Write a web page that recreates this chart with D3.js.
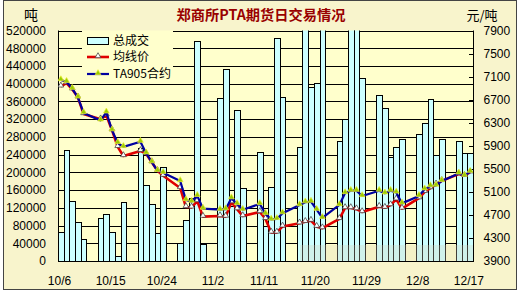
<!DOCTYPE html>
<html>
<head>
<meta charset="utf-8">
<script src="https://cdn.jsdelivr.net/npm/d3@7"></script>
<style>
  body { margin: 0; background: #fff; }
  svg { display: block; }
  text { font-family: "Liberation Sans", Arial, sans-serif; }
  .cjk { font-family: "Noto Sans CJK SC", sans-serif; }
</style>
</head>
<body>
<svg id="chart"></svg>
<script>
// trading days (2008)
const DATES = [
  "10/6","10/7","10/8","10/9","10/10","10/13","10/14","10/15","10/16","10/17",
  "10/20","10/21","10/22","10/23","10/24","10/27","10/28","10/29","10/30","10/31",
  "11/3","11/4","11/5","11/6","11/7","11/10","11/11","11/12","11/13","11/14",
  "11/17","11/18","11/19","11/20","11/21","11/24","11/25","11/26","11/27","11/28",
  "12/1","12/2","12/3","12/4","12/5","12/8","12/9","12/10","12/11","12/12",
  "12/15","12/16","12/17"
];
// 总成交 (吨)
const VOLUME = [
  66000, 250000, 136000, 87000, 49000, 98000, 105000, 64500, 11000, 134000,
  255000, 171000, 128000, 63000, 213000, 40000, 92000, 143000, 496000, 38000,
  367000, 434000, 125000, 340000, 164000, 246000, 80000, 166000, 502000, 369000,
  257000, 580000, 392000, 402000, 590000, 270000, 321000, 600000, 570000, 412000,
  374500, 344500, 234000, 256500, 275000, 286500, 310500, 365500, 239000, 274500,
  270500, 243000, 243000
];
// 均线价 (元/吨)
const AVG_PRICE = [
  6930, 6985, 6880, 6740, 6450, 6360, 6430, 6170, 5880, 5722,
  5810, 5760, 5615, 5465, 5380, 5167, 4837, 4830, 4940, 4670,
  4680, 4670, 4920, 4800, 4680, 4750, 4630, 4395, 4395, 4500,
  4555, 4580, 4600, 4495, 4470, 4630, 4820, 4820, 4800, 4750,
  4842, 4825, 4870, 4970, 4810, 4990, 5100, 5165, 5230, 5290,
  5410, 5380, 5440
];
// TA905合约 (元/吨)
const TA905 = [
  7040, 7010, 6890, 6740, 6470, 6340, 6480, 6170, 5950, 5880,
  5970, 5770, 5615, 5465, 5430, 5288, 4958, 4930, 5030, 4810,
  4790, 4800, 4990, 4890, 4790, 4890, 4720, 4620, 4630, 4730,
  4870, 4920, 4930, 4790, 4650, 4872, 5080, 5120, 5120, 5028,
  5120, 5075, 5120, 5090, 4900, 5030, 5145, 5200, 5210, 5290,
  5420, 5380, 5450
];
const X_TICKS = ["10/6","10/15","10/24","11/2","11/11","11/20","11/29","12/8","12/17"];
const VOL_TICKS = d3.range(0, 520001, 40000);
const PRICE_TICKS = d3.range(3900, 7901, 400);

const W = 523, H = 294;
const PLOT = {left: 58, right: 473, top: 30.5, bottom: 261};
const MARK = 14; // triangle marker area

const fmt = d3.timeFormat("%-m/%-d");
const allDays = d3.timeDay.range(new Date(2008, 9, 6), new Date(2008, 11, 18)).map(fmt);

const x = d3.scaleBand().domain(allDays).range([PLOT.left, PLOT.right]).padding(0);
const yVol = d3.scaleLinear().domain([0, 520000]).range([PLOT.bottom, PLOT.top]);
const yPrice = d3.scaleLinear().domain([3900, 7900]).range([PLOT.bottom, PLOT.top]);
const bw = x.bandwidth();
const cx = d => x(d) + bw / 2;

const rows = DATES.map((d, i) => ({date: d, vol: VOLUME[i], avg: AVG_PRICE[i], ta: TA905[i]}));

const svg = d3.select("#chart").attr("width", W).attr("height", H);

// chart area
svg.append("rect").attr("x", 3.5).attr("y", 0.5).attr("width", 513).attr("height", 289)
  .attr("fill", "#F8F4CC").attr("stroke", "#444");

svg.append("rect")
  .attr("x", PLOT.left).attr("y", PLOT.top)
  .attr("width", PLOT.right - PLOT.left).attr("height", PLOT.bottom - PLOT.top)
  .attr("fill", "#FFFFCC");

svg.append("clipPath").attr("id", "plotclip").append("rect")
  .attr("x", PLOT.left).attr("y", PLOT.top)
  .attr("width", PLOT.right - PLOT.left).attr("height", PLOT.bottom - PLOT.top);

// gridlines on the left (volume) scale
svg.append("g")
  .selectAll("line")
  .data(VOL_TICKS)
  .join("line")
  .attr("x1", PLOT.left).attr("x2", PLOT.right)
  .attr("y1", d => Math.round(yVol(d)) + 0.5).attr("y2", d => Math.round(yVol(d)) + 0.5)
  .attr("stroke", "#000");

// volume bars
svg.append("g")
  .attr("clip-path", "url(#plotclip)")
  .selectAll(".bar")
  .data(rows)
  .join("rect")
  .classed("bar", true)
  .attr("x", d => Math.round(x(d.date)) + 0.5)
  .attr("width", d => Math.round(x(d.date) + bw) - Math.round(x(d.date)))
  .attr("y", d => Math.round(yVol(d.vol)) + 0.5)
  .attr("height", d => Math.round(PLOT.bottom) - Math.round(yVol(d.vol)))
  .attr("fill", "#CCFFFF")
  .attr("stroke", "#000");

// frame / axes
const frame = svg.append("g").attr("stroke", "#000").attr("fill", "none");
frame.append("line").attr("x1", PLOT.left + 0.5).attr("x2", PLOT.left + 0.5)
  .attr("y1", PLOT.top).attr("y2", PLOT.bottom);
frame.append("line").attr("x1", PLOT.right + 0.5).attr("x2", PLOT.right + 0.5)
  .attr("y1", PLOT.top).attr("y2", PLOT.bottom);
frame.append("line").attr("x1", PLOT.left).attr("x2", PLOT.right + 1)
  .attr("y1", PLOT.bottom + 0.5).attr("y2", PLOT.bottom + 0.5);

// left axis labels
svg.append("g")
  .attr("transform", `translate(${PLOT.left},0)`)
  .call(d3.axisLeft(yVol).tickValues(VOL_TICKS).tickFormat(d3.format("d")).tickSize(0).tickPadding(12))
  .call(g => g.select(".domain").remove())
  .call(g => g.selectAll("text").attr("font-size", 12).attr("fill", "#000")
    .attr("font-family", "Liberation Sans, Arial, sans-serif"));

// right axis with inward ticks
svg.append("g")
  .attr("transform", `translate(${PLOT.right + 0.5},0)`)
  .call(d3.axisRight(yPrice).tickValues(PRICE_TICKS).tickFormat(d3.format("d")).tickSize(0).tickPadding(10))
  .call(g => g.select(".domain").remove())
  .call(g => g.selectAll("text").attr("font-size", 12).attr("fill", "#000")
    .attr("font-family", "Liberation Sans, Arial, sans-serif"));
svg.append("g")
  .selectAll("line")
  .data(PRICE_TICKS)
  .join("line")
  .attr("x1", PLOT.right - 4).attr("x2", PLOT.right + 1)
  .attr("y1", d => Math.round(yPrice(d)) + 0.5).attr("y2", d => Math.round(yPrice(d)) + 0.5)
  .attr("stroke", "#000");

// x axis labels
svg.append("g")
  .selectAll("text")
  .data(X_TICKS)
  .join("text")
  .attr("x", d => x(d) + 1.5)
  .attr("y", 285)
  .attr("text-anchor", "middle")
  .attr("font-size", 12)
  .text(d => d);

// price lines
function drawSeries(key, color, width, markFill, markStroke) {
  const g = svg.append("g").attr("clip-path", "url(#plotclip)");
  g.append("path")
    .datum(rows)
    .attr("fill", "none")
    .attr("stroke", color)
    .attr("stroke-width", width)
    .attr("stroke-linejoin", "round")
    .attr("d", d3.line().x(d => cx(d.date)).y(d => yPrice(d[key])));
  g.selectAll(".mk")
    .data(rows)
    .join("path")
    .attr("transform", d => `translate(${cx(d.date)},${yPrice(d[key]) - 1})`)
    .attr("d", d3.symbol(d3.symbolTriangle, MARK)())
    .attr("fill", markFill)
    .attr("stroke", markStroke)
    .attr("stroke-width", 0.7);
}
drawSeries("avg", "#E00000", 2.6, "#FFFFFF", "#333");
drawSeries("ta", "#0000A0", 2.2, "#99CC00", "#EEEE33");

// legend
const legend = svg.append("g");
legend.append("rect").attr("x", 82).attr("y", 31).attr("width", 91).attr("height", 50)
  .attr("fill", "#FFFFCC");
legend.append("rect").attr("x", 87.5).attr("y", 37.5).attr("width", 21).attr("height", 7)
  .attr("fill", "#CCFFFF").attr("stroke", "#000");
legend.append("line").attr("x1", 87).attr("x2", 109).attr("y1", 57).attr("y2", 57)
  .attr("stroke", "#E00000").attr("stroke-width", 2.6);
legend.append("path").attr("transform", "translate(98,56)")
  .attr("d", d3.symbol(d3.symbolTriangle, MARK)())
  .attr("fill", "#fff").attr("stroke", "#333").attr("stroke-width", 0.7);
legend.append("line").attr("x1", 87).attr("x2", 109).attr("y1", 74).attr("y2", 74)
  .attr("stroke", "#0000A0").attr("stroke-width", 2.2);
legend.append("path").attr("transform", "translate(98,73)")
  .attr("d", d3.symbol(d3.symbolTriangle, MARK)())
  .attr("fill", "#99CC00").attr("stroke", "#EEEE33").attr("stroke-width", 0.7);
const legendLabels = ["总成交", "均线价", "TA905合约"];
legend.selectAll(".lt")
  .data(legendLabels)
  .join("text")
  .attr("class", "cjk")
  .attr("x", 113)
  .attr("y", (d, i) => 44.5 + i * 16.8)
  .attr("font-size", 12)
  .text(d => d);

// titles
svg.append("text").attr("class", "cjk")
  .attr("x", 261).attr("y", 20)
  .attr("text-anchor", "middle")
  .attr("font-size", 14).attr("font-weight", "bold")
  .attr("fill", "#990000")
  .attr("textLength", 169).attr("lengthAdjust", "spacingAndGlyphs")
  .text("郑商所PTA期货日交易情况");
svg.append("text").attr("class", "cjk")
  .attr("x", 31).attr("y", 20).attr("text-anchor", "middle")
  .attr("font-size", 14).text("吨");
svg.append("text").attr("class", "cjk")
  .attr("x", 482).attr("y", 20).attr("text-anchor", "middle")
  .attr("font-size", 13).text("元/吨");

// faint watermark band over the lower plot
svg.append("rect").attr("x", 300).attr("y", 245).attr("width", 173).attr("height", 16)
  .attr("fill", "#d8d2b8").attr("opacity", 0.3);
</script>
</body>
</html>
